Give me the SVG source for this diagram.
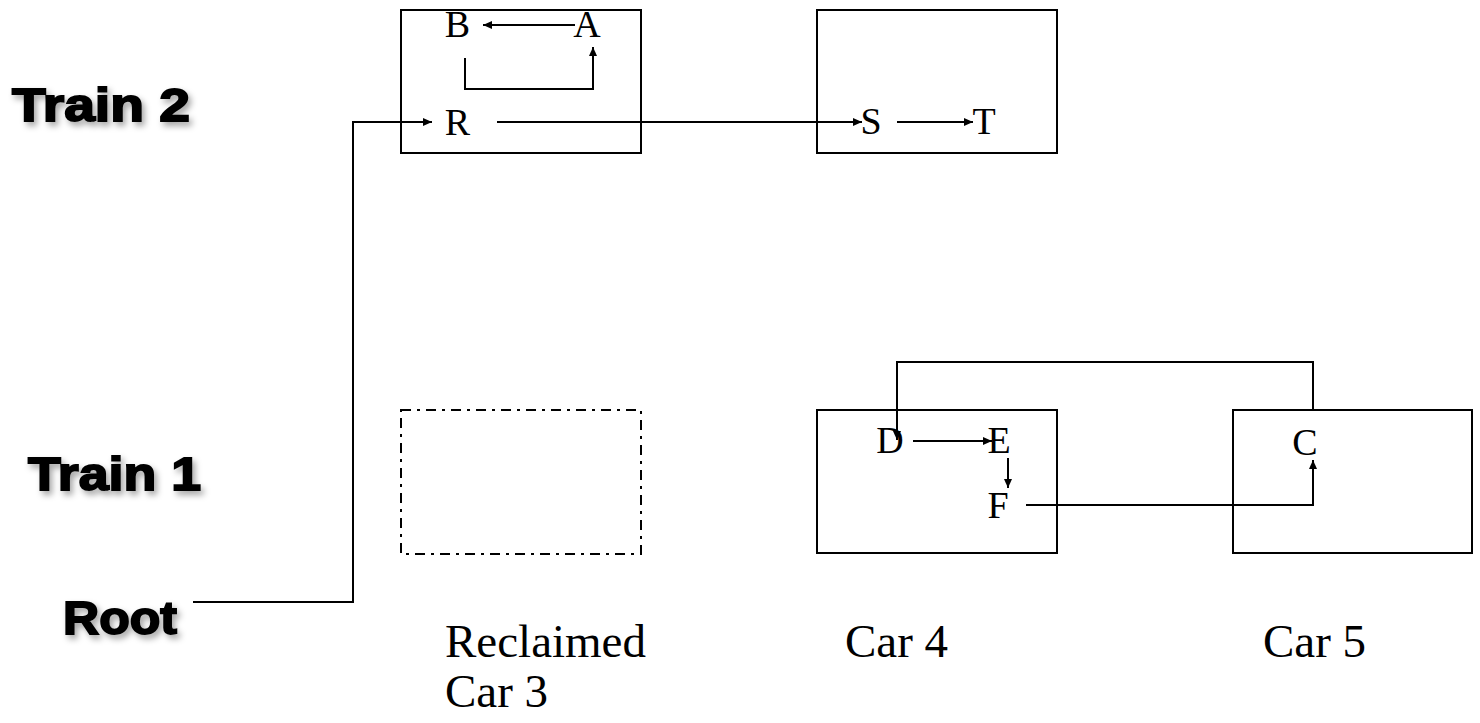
<svg xmlns="http://www.w3.org/2000/svg" width="1480" height="723" viewBox="0 0 1480 723">
<defs>
<marker id="ah" markerUnits="userSpaceOnUse" markerWidth="10" markerHeight="8" refX="9" refY="4" orient="auto">
<path d="M0,0 L9,4 L0,8 Z" fill="#000"/>
</marker>
<filter id="sh" x="-10%" y="-20%" width="130%" height="160%">
<feDropShadow dx="3" dy="4" stdDeviation="3" flood-color="#000" flood-opacity="0.35"/>
</filter>
</defs>
<style>
.box{fill:none;stroke:#000;stroke-width:2}
.dash{fill:none;stroke:#000;stroke-width:2;stroke-dasharray:10 6 3 6}
.con{fill:none;stroke:#000;stroke-width:2}
.arr{marker-end:url(#ah)}
.node{font-family:"Liberation Serif","Times New Roman",serif;font-size:38px;fill:#000;text-anchor:middle}
.lbl{font-family:"Liberation Serif","Times New Roman",serif;font-size:47px;fill:#000}
.train{font-family:"Liberation Sans",Arial,sans-serif;font-weight:bold;font-size:46px;fill:#000;stroke:#000;stroke-width:1.8;filter:url(#sh)}
</style>
<rect width="1480" height="723" fill="#fff"/>
<g id="labels-left">
<text class="train" x="12" y="121" textLength="178" lengthAdjust="spacingAndGlyphs">Train 2</text>
<text class="train" x="28" y="490" textLength="173" lengthAdjust="spacingAndGlyphs">Train 1</text>
<text class="train" x="63" y="634" textLength="114" lengthAdjust="spacingAndGlyphs">Root</text>
</g>
<g id="car3-train2">
<rect class="box" x="401" y="10" width="240" height="143"/>
<text class="node" x="457.5" y="37">B</text>
<text class="node" x="587" y="37">A</text>
<text class="node" x="457.5" y="135">R</text>
</g>
<g id="car-train2-b">
<rect class="box" x="817" y="10" width="240" height="143"/>
<text class="node" x="871" y="134">S</text>
<text class="node" x="984" y="134">T</text>
</g>
<g id="reclaimed-car3">
<rect class="dash" x="401" y="410" width="240" height="144"/>
<text class="lbl" x="445" y="657">Reclaimed</text>
<text class="lbl" x="445" y="707">Car 3</text>
</g>
<g id="car4">
<rect class="box" x="817" y="410" width="240" height="143"/>
<text class="node" x="890" y="453">D</text>
<text class="node" x="999" y="453">E</text>
<text class="node" x="998" y="518">F</text>
<text class="lbl" x="845" y="657">Car 4</text>
</g>
<g id="car5">
<rect class="box" x="1233" y="410" width="239" height="143"/>
<text class="node" x="1305" y="455">C</text>
<text class="lbl" x="1263" y="657">Car 5</text>
</g>
<g id="connectors">
<polyline class="con arr" points="193,602 353,602 353,122 432,122"/>
<line class="con arr" x1="497" y1="122" x2="862" y2="122"/>
<line class="con arr" x1="897" y1="122" x2="973" y2="122"/>
<line class="con arr" x1="575" y1="25" x2="483" y2="25"/>
<polyline class="con arr" points="465,58 465,89 593,89 593,47"/>
<line class="con arr" x1="913" y1="441" x2="992" y2="441"/>
<line class="con arr" x1="1008" y1="458" x2="1008" y2="488"/>
<polyline class="con arr" points="1026,505 1313,505 1313,460"/>
<polyline class="con arr" points="1313,410 1313,362 897,362 897,440"/>
</g>
</svg>
